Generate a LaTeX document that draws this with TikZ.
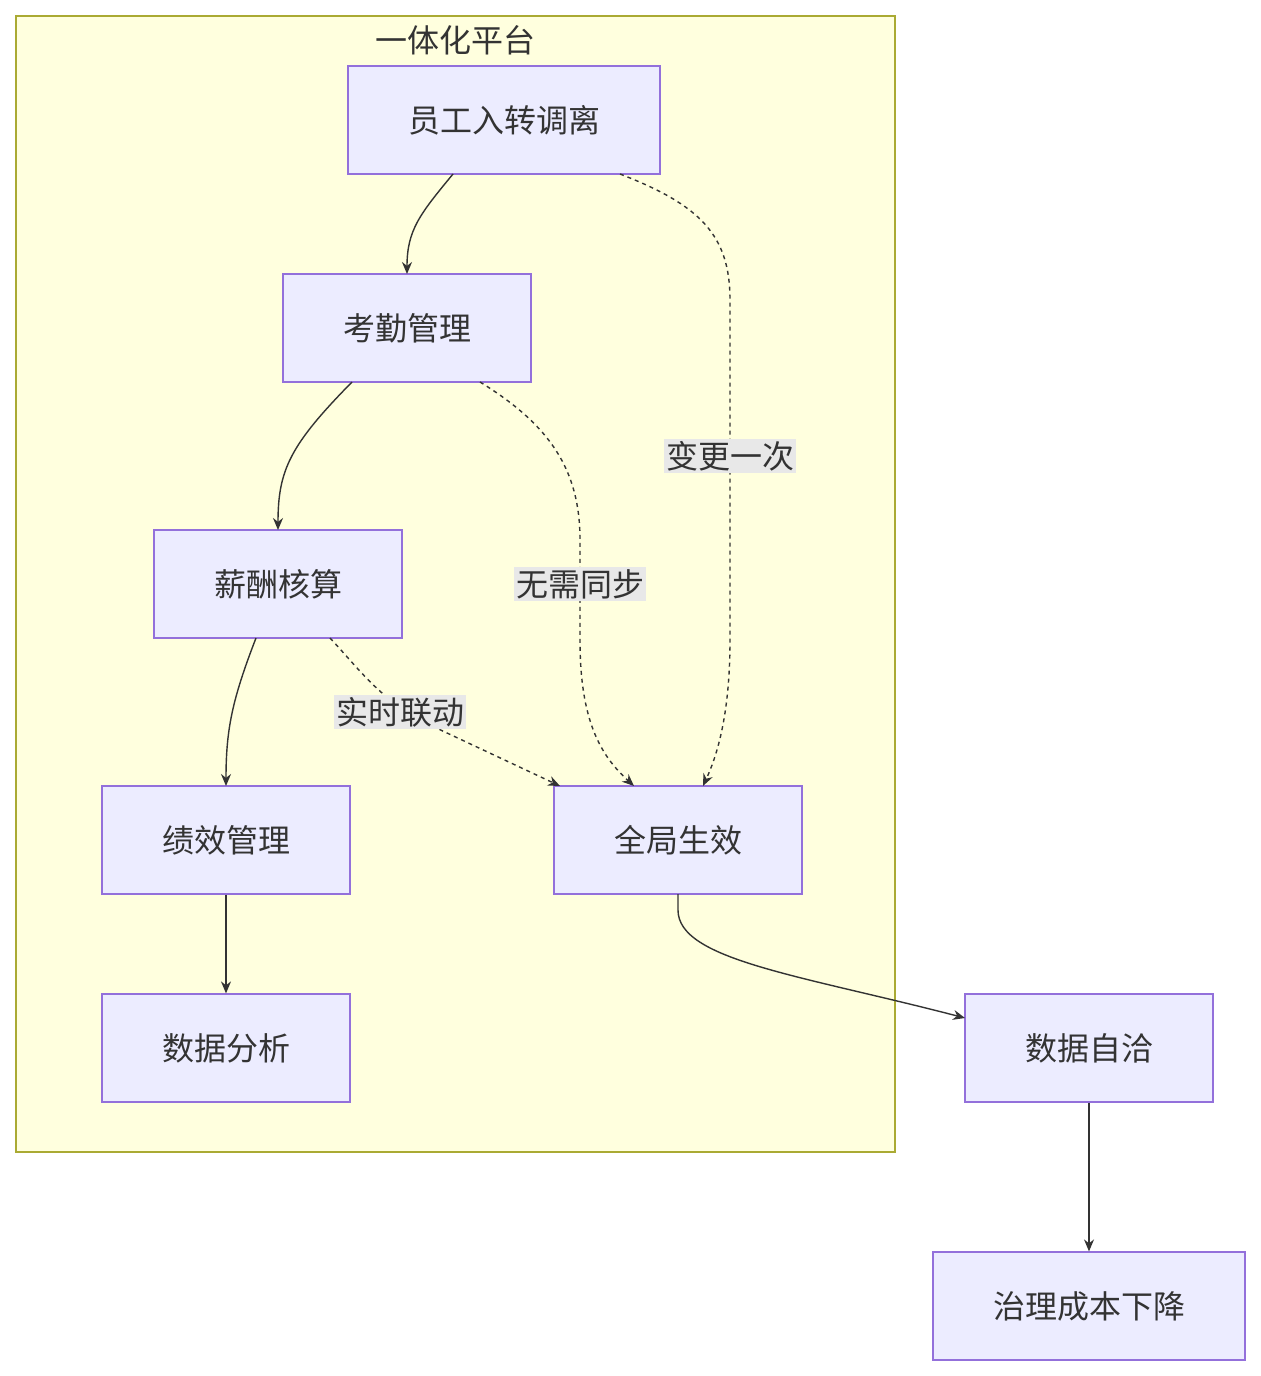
\documentclass[tikz,border=0pt]{standalone}
\usepackage{fontspec}
\setmainfont{Noto Sans CJK SC}
\usetikzlibrary{arrows.meta}
\definecolor{nfill}{HTML}{ECECFF}
\definecolor{nline}{HTML}{9370DB}
\definecolor{cfill}{HTML}{FFFFDE}
\definecolor{cline}{HTML}{AAAA33}
\definecolor{txt}{HTML}{333333}
\definecolor{lbl}{HTML}{E8E8E8}
\tikzset{
  box/.style={draw=nline, fill=nfill, line width=0.6pt, minimum height=54pt, inner sep=0pt, text=txt, font=\fontsize{16}{19}\selectfont},
  wbox/.style={box, minimum width=156pt},
  nbox/.style={box, minimum width=124pt},
  conn/.style={draw=txt, line width=0.7pt, -{Stealth[length=6pt,width=5pt]}},
  dconn/.style={conn, dashed, dash pattern=on 2pt off 2pt},
  elabel/.style={fill=lbl, text=txt, inner sep=1pt, font=\fontsize{16}{19}\selectfont}
}
\begin{document}
\begin{tikzpicture}[x=0.5pt,y=-0.5pt]
\useasboundingbox (0,0) rectangle (1261,1376);
\draw[draw=cline, fill=cfill, line width=0.6pt] (16,16) rectangle (895,1152);
\node[text=txt, font=\fontsize{16}{19}\selectfont] (title) at (455,40) {一体化平台};
\node[wbox] (a) at (504,120) {员工入转调离};
\node[nbox] (b) at (407,328) {考勤管理};
\node[nbox] (c) at (278,584) {薪酬核算};
\node[nbox] (d) at (226,840) {绩效管理};
\node[nbox] (e) at (226,1048) {数据分析};
\node[nbox] (f) at (678,840) {全局生效};
\node[nbox] (g) at (1089,1048) {数据自洽};
\node[wbox] (h) at (1089,1306) {治理成本下降};
\coordinate (a1) at (453,174);
\coordinate (b1) at (407,274);
\draw[conn] (a1) .. controls (420,214) and (407,230) .. (b1);
\coordinate (b2) at (352,382);
\coordinate (c1) at (278,530);
\draw[conn] (b2) .. controls (290,445) and (278,470) .. (c1);
\coordinate (c2) at (256,638);
\coordinate (d1) at (226,786);
\draw[conn] (c2) .. controls (232,700) and (226,730) .. (d1);
\draw[conn] (d) -- (e);
\coordinate (a2) at (620,174);
\coordinate (f1) at (703,786);
\draw[dconn] (a2) .. controls (700,205) and (730,235) .. (730,300) -- (730,640) .. controls (730,720) and (715,760) .. (f1);
\node[elabel] (l1) at (730,456) {变更一次};
\coordinate (b3) at (480,382);
\coordinate (f2) at (634,786);
\draw[dconn] (b3) .. controls (550,425) and (580,470) .. (580,540) -- (580,640) .. controls (580,720) and (600,755) .. (f2);
\node[elabel] (l2) at (580,584) {无需同步};
\coordinate (c3) at (330,638);
\coordinate (f3) at (560,786);
\draw[dconn] (c3) .. controls (360,670) and (380,700) .. (430,725) -- (f3);
\node[elabel] (l3) at (400,712) {实时联动};
\coordinate (f4) at (678,894);
\coordinate (g1) at (965,1018);
\draw[conn] (f4) -- (678,910) .. controls (678,960) and (800,975) .. (g1);
\draw[conn] (g) -- (h);
\end{tikzpicture}
\end{document}
